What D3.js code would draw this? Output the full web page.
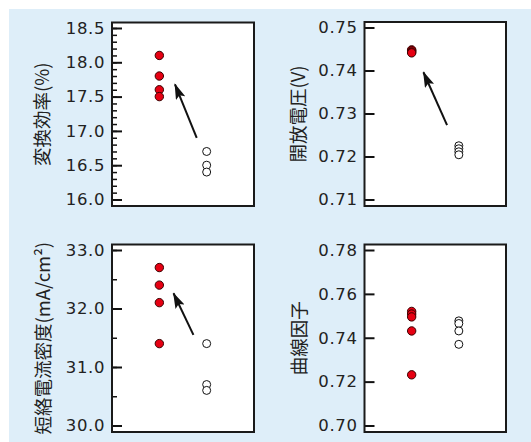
<!DOCTYPE html>
<html>
<head>
<meta charset="utf-8">
<script src="https://cdn.jsdelivr.net/npm/d3@7/dist/d3.min.js"></script>
<style>
  body { margin: 0; background: #fff; }
  svg { display: block; }
</style>
</head>
<body>
<svg id="chart" width="531" height="442"></svg>
<script>
// Two sample groups: improved cells (filled red) and reference cells (open)
const groups = ["improved", "reference"];

// Conversion efficiency (%)
const effImproved = [18.1, 17.8, 17.6, 17.5];
const effReference = [16.7, 16.5, 16.4];
const effTicks = ["16.0", "16.5", "17.0", "17.5", "18.0", "18.5"];

// Open-circuit voltage (V)
const vocImproved = [0.7448, 0.7446, 0.7443, 0.7441];
const vocReference = [0.7225, 0.7218, 0.7211, 0.7204];
const vocTicks = ["0.71", "0.72", "0.73", "0.74", "0.75"];

// Short-circuit current density (mA/cm²)
const jscImproved = [32.7, 32.4, 32.1, 31.4];
const jscReference = [31.4, 30.7, 30.6];
const jscTicks = ["30.0", "31.0", "32.0", "33.0"];

// Fill factor
const ffImproved = [0.752, 0.7508, 0.7495, 0.7431, 0.7231];
const ffReference = [0.7477, 0.7465, 0.7431, 0.737];
const ffTicks = ["0.70", "0.72", "0.74", "0.76", "0.78"];

// Trend arrows: [group position, value] for tail and head
const effArrow = [[0.79, 16.9], [0.33, 17.68]];
const vocArrow = [[0.75, 0.7273], [0.25, 0.7396]];
const jscArrow = [[0.72, 31.55], [0.30, 32.26]];

const panels = [
  { title: "変換効率(%)", ticks: effTicks, minor: 0.1, values: [effImproved, effReference], arrow: effArrow,
    box: { x: 112, y: 22.5, w: 142, h: 183.5 }, titleDx: -70 },
  { title: "開放電圧(V)", ticks: vocTicks, minor: null, values: [vocImproved, vocReference], arrow: vocArrow,
    box: { x: 364.5, y: 22, w: 141.5, h: 184 }, titleDx: -66 },
  { title: "短絡電流密度(mA/cm²)", ticks: jscTicks, minor: 0.5, values: [jscImproved, jscReference], arrow: jscArrow,
    box: { x: 112, y: 244.5, w: 142, h: 187.5 }, titleDx: -69 },
  { title: "曲線因子", ticks: ffTicks, minor: null, values: [ffImproved, ffReference], arrow: null,
    box: { x: 364.5, y: 244.5, w: 141.5, h: 187.5 }, titleDx: -65 }
];

const svg = d3.select("#chart");

// light blue backdrop
svg.append("rect").attr("x", 9).attr("y", 9).attr("width", 522).attr("height", 433).attr("fill", "#deeef9");

svg.append("defs").append("marker")
  .attr("id", "arrowhead")
  .attr("viewBox", "0 0 16 10")
  .attr("refX", 15).attr("refY", 5)
  .attr("markerWidth", 16).attr("markerHeight", 10)
  .attr("markerUnits", "userSpaceOnUse")
  .attr("orient", "auto")
  .append("path").attr("d", "M0,0 L16,5 L0,10 L3,5 Z").attr("fill", "#111");

panels.forEach(p => {
  const b = p.box;
  const g = svg.append("g").attr("transform", `translate(${b.x},${b.y})`);
  const tickVals = p.ticks.map(Number);
  const lo = d3.min(tickVals), hi = d3.max(tickVals);

  const y = d3.scaleLinear().domain([lo, hi]).range([b.h - 6.5, 5.5]);
  const x = d3.scalePoint().domain(groups).range([0, b.w]).padding(1);
  const xPos = d3.scaleLinear().domain([0, 1]).range([x(groups[0]), x(groups[1])]);

  g.append("rect").attr("width", b.w).attr("height", b.h).attr("fill", "#fff");

  // minor ticks
  if (p.minor) {
    const n = Math.round((hi - lo) / p.minor);
    const minors = d3.range(n + 1).map(i => lo + i * p.minor);
    g.append("g").call(d3.axisRight(y).tickValues(minors).tickSize(5).tickFormat(""))
      .call(a => a.select(".domain").remove())
      .selectAll("line").attr("stroke", "#111").attr("stroke-width", 1.5);
  }

  // major ticks, drawn inward, with labels outside the frame
  const ax = g.append("g").call(d3.axisRight(y).tickValues(tickVals).tickSize(10)
    .tickFormat((d, i) => p.ticks[i]));
  ax.select(".domain").remove();
  ax.selectAll("line").attr("stroke", "#111").attr("stroke-width", 2);
  ax.selectAll("text")
    .attr("x", -7).attr("text-anchor", "end")
    .attr("font-family", "'DejaVu Sans', sans-serif").attr("font-size", 16.5)
    .attr("letter-spacing", 0.6)
    .attr("fill", "#222");

  // axis title
  g.append("text")
    .attr("transform", `translate(${p.titleDx},${b.h / 2}) rotate(-90)`)
    .attr("text-anchor", "middle").attr("dy", "0.36em")
    .attr("font-family", "'Noto Sans CJK JP', sans-serif").attr("font-size", 18.5)
    .attr("fill", "#222")
    .text(p.title);

  // arrow
  if (p.arrow) {
    g.append("line")
      .attr("x1", xPos(p.arrow[0][0])).attr("y1", y(p.arrow[0][1]))
      .attr("x2", xPos(p.arrow[1][0])).attr("y2", y(p.arrow[1][1]))
      .attr("stroke", "#111").attr("stroke-width", 2)
      .attr("marker-end", "url(#arrowhead)");
  }

  // reference group: open circles
  g.selectAll("circle.ref").data(p.values[1]).join("circle")
    .attr("class", "ref")
    .attr("cx", x(groups[1])).attr("cy", d => y(d)).attr("r", 4)
    .attr("fill", "#fff").attr("stroke", "#111").attr("stroke-width", 1);

  // improved group: filled red circles
  g.selectAll("circle.imp").data(p.values[0]).join("circle")
    .attr("class", "imp")
    .attr("cx", x(groups[0])).attr("cy", d => y(d)).attr("r", 4.2)
    .attr("fill", "#e60012").attr("stroke", "#3a0000").attr("stroke-width", 1);

  // frame
  g.append("rect").attr("width", b.w).attr("height", b.h)
    .attr("fill", "none").attr("stroke", "#1a1a1a").attr("stroke-width", 2);
});
</script>
</body>
</html>
